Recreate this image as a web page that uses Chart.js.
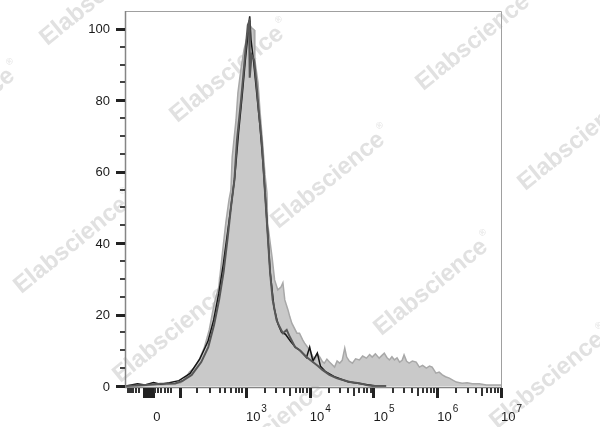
<!DOCTYPE html>
<html>
<head>
<meta charset="utf-8">
<title>Flow histogram</title>
<script src="https://cdn.jsdelivr.net/npm/chart.js@4.4.0/dist/chart.umd.min.js"></script>
<style>
    html, body { margin: 0; padding: 0; background: #fff; }
    #wrap { width: 600px; height: 427px; }
</style>
</head>
<body>
<div id="wrap"><canvas id="histChart" width="600" height="427"></canvas></div>
<script>
// x values are in display (biexponential) units: 10^n sits at n, zero sits near 1.55
const stainedX = [
    1.12, 1.34, 1.58, 1.73, 1.84, 1.97, 2.035, 2.115, 2.185, 2.265,
    2.345, 2.425, 2.505, 2.575, 2.625, 2.685, 2.735, 2.765, 2.785, 2.845,
    2.875, 2.925, 2.97, 3.02, 3.05, 3.06, 3.09, 3.13, 3.14, 3.19,
    3.22, 3.27, 3.30, 3.33, 3.34, 3.41, 3.45, 3.50, 3.55, 3.58,
    3.61, 3.66, 3.69, 3.72, 3.80, 3.84, 3.89, 3.92, 4.00, 4.04,
    4.08, 4.12, 4.16, 4.20, 4.23, 4.27, 4.31, 4.35, 4.39, 4.43,
    4.47, 4.51, 4.55, 4.58, 4.62, 4.67, 4.72, 4.78, 4.83, 4.89,
    4.94, 4.98, 5.03, 5.09, 5.13, 5.17, 5.21, 5.25, 5.29, 5.33,
    5.37, 5.41, 5.45, 5.48, 5.52, 5.56, 5.61, 5.67, 5.72, 5.77,
    5.83, 5.88, 5.92, 5.98, 6.03, 6.08, 6.13, 6.19, 6.25, 6.30,
    6.39, 6.47, 6.55, 6.66, 6.77, 7.00
];
const stainedY = [
    0, 0.1, 0.3, 0.4, 0.6, 0.8, 1.7, 3.9, 5.0, 7.3,
    10.6, 15.7, 23.2, 27.7, 36.1, 45.7, 52.1, 54.9, 64.1, 74.5,
    82.1, 89.1, 94.1, 97.8, 102.0, 101.1, 100.3, 99.7, 91.3, 84.9,
    77.3, 66.1, 59.1, 54.1, 45.7, 36.1, 29.7, 26.9, 27.7, 28.9,
    24.1, 21.3, 19.3, 17.6, 14.8, 14.8, 12.9, 12.0, 10.1, 8.5,
    7.3, 9.0, 8.1, 6.8, 6.4, 7.5, 6.7, 6.0, 5.3, 7.0,
    6.4, 7.2, 10.6, 8.1, 7.0, 6.4, 7.6, 7.3, 8.4, 7.8,
    8.8, 8.1, 9.0, 7.8, 8.5, 9.2, 8.0, 7.3, 8.2, 7.3,
    7.9, 6.7, 7.2, 8.7, 6.9, 6.4, 7.0, 6.7, 5.3, 5.8,
    5.0, 5.6, 5.3, 3.6, 3.9, 3.1, 2.6, 2.2, 1.6, 1.1,
    0.8, 0.9, 0.6, 0.6, 0.3, 0.3
];

const controlX = [
    1.12, 1.42, 1.66, 1.89, 2.00, 2.15, 2.30, 2.41, 2.50, 2.58,
    2.65, 2.71, 2.77, 2.82, 2.86, 2.92, 2.96, 2.99, 3.03, 3.05,
    3.06, 3.06, 3.09, 3.13, 3.17, 3.20, 3.25, 3.30, 3.33, 3.38,
    3.42, 3.48, 3.53, 3.58, 3.64, 3.69, 3.77, 3.84, 3.95, 4.05,
    4.13, 4.20, 4.31, 4.42, 4.52, 4.63, 4.78, 4.89, 4.98, 5.20
];
const controlY = [
    0, 0.3, 0.6, 0.7, 1.4, 3.1, 6.7, 10.9, 17.1, 24.1,
    31.9, 40.9, 50.7, 57.7, 68.9, 79.3, 87.1, 93.3, 101.1, 102.0,
    96.9, 86.3, 92.7, 91.3, 83.8, 77.3, 68.1, 54.1, 45.7, 31.7,
    24.1, 18.5, 16.5, 14.8, 15.7, 13.7, 10.9, 10.1, 8.1, 6.7,
    5.6, 4.5, 3.1, 2.2, 1.7, 1.1, 0.8, 0.3, 0, 0
];

const isotypeX = [
    1.12, 1.30, 1.42, 1.55, 1.66, 1.80, 1.95, 2.125, 2.275, 2.405,
    2.495, 2.575, 2.645, 2.705, 2.765, 2.825, 2.885, 2.945, 2.99, 3.03,
    3.06, 3.08, 3.12, 3.17, 3.22, 3.27, 3.33, 3.38, 3.44, 3.50,
    3.56, 3.62, 3.70, 3.78, 3.86, 3.95, 4.00, 4.05, 4.12, 4.17,
    4.25, 4.40, 4.60, 4.85, 5.05
];
const isotypeY = [
    0, 0.6, 0.3, 1.0, 0.5, 0.9, 1.5, 3.5, 7.5, 12.5,
    18.5, 26.0, 34.0, 42.0, 50.0, 58.5, 71.0, 82.0, 91.0, 98.0,
    103.5, 97.0, 91.0, 82.0, 73.0, 62.0, 46.0, 32.0, 22.0, 17.5,
    15.0, 14.5, 12.5, 10.8, 9.8, 8.0, 10.9, 7.0, 9.2, 5.5,
    4.0, 2.5, 1.2, 0.5, 0
];

// axis ticks and labels
const yLabelValues = [0, 20, 40, 60, 80, 100];
const yMinorValues = [5, 10, 15, 25, 30, 35, 45, 50, 55, 65, 70, 75, 85, 90, 95];
const xLabelValues = [1.547, 3, 4, 5, 6, 7];
const xLabelBase = ['0', '10', '10', '10', '10', '10'];
const xLabelExp = ['', '3', '4', '5', '6', '7'];
const xMajorTicks = [1.406, 1.422, 1.438, 1.453, 1.469, 1.484, 1.5, 1.516, 1.531, 1.547, 1.969, 3, 4, 5, 6, 7];
const xLowMinorTicks = [1.156, 1.172, 1.203, 1.234, 1.281, 1.328, 1.578, 1.625, 1.672, 1.734, 1.781, 1.828,
    2.234, 2.438, 2.594, 2.672, 2.766, 2.844, 2.891, 2.938];

const watermarkSpots = [[100, -5], [-39, 114], [230, 72], [476, 40], [331, 178], [578, 140],
    [74, 243], [434, 285], [173, 332], [270, 428], [550, 378]];

function toPoints(xs, ys) {
    return xs.map((x, i) => ({ x: x, y: ys[i] }));
}

// faint company watermark behind the histograms
const watermark = {
    id: 'watermark',
    beforeDatasetsDraw(chart) {
        const ctx = chart.ctx;
        ctx.save();
        ctx.fillStyle = '#e1e1e1';
        ctx.textBaseline = 'middle';
        watermarkSpots.forEach(([cx, cy]) => {
            ctx.save();
            ctx.translate(cx, cy);
            ctx.rotate(-39 * Math.PI / 180);
            ctx.font = 'bold 24px "Liberation Sans", Arial, sans-serif';
            const w = ctx.measureText('Elabscience').width;
            ctx.fillText('Elabscience', -w / 2 - 4, 0);
            ctx.font = '9px "Liberation Sans", Arial, sans-serif';
            ctx.fillText('®', w / 2 - 2, -10);
            ctx.restore();
        });
        ctx.restore();
    }
};

// frame, tick marks and labels drawn from the chart's own scales
const flowAxes = {
    id: 'flowAxes',
    afterDraw(chart) {
        const { ctx, chartArea: a, scales: { x, y } } = chart;
        ctx.save();

        ctx.strokeStyle = '#a0a0a0';
        ctx.lineWidth = 1;
        ctx.beginPath();
        ctx.moveTo(a.left, a.top + 0.5);
        ctx.lineTo(a.right + 0.5, a.top + 0.5);
        ctx.lineTo(a.right + 0.5, a.bottom);
        ctx.stroke();

        ctx.strokeStyle = '#858585';
        ctx.lineWidth = 1.5;
        ctx.beginPath();
        ctx.moveTo(a.left - 0.5, a.top);
        ctx.lineTo(a.left - 0.5, a.bottom + 0.5);
        ctx.lineTo(a.right + 1, a.bottom + 0.5);
        ctx.stroke();

        // y ticks
        ctx.fillStyle = '#222';
        yLabelValues.forEach(v => {
            const py = Math.round(y.getPixelForValue(v));
            ctx.fillRect(a.left - 10, py - 1, 9, 3);
        });
        ctx.fillStyle = '#444';
        yMinorValues.forEach(v => {
            const py = Math.round(y.getPixelForValue(v));
            ctx.fillRect(a.left - 6, py - 1, 5, 2);
        });

        // x ticks
        const base = a.bottom + 1;
        ctx.fillStyle = '#222';
        xMajorTicks.forEach(v => {
            const px = Math.round(x.getPixelForValue(v));
            ctx.fillRect(px - 1, base, 3, 10);
        });
        ctx.fillStyle = '#333';
        xLowMinorTicks.forEach(v => {
            const px = Math.round(x.getPixelForValue(v));
            ctx.fillRect(px - 1, base, 2, 5);
        });
        for (let n = 3; n < 7; n++) {
            for (let k = 2; k <= 9; k++) {
                const px = Math.round(x.getPixelForValue(n + Math.log10(k)));
                ctx.fillRect(px - 1, base, 2, k === 5 ? 8 : 5);
            }
        }

        // labels
        ctx.fillStyle = '#1a1a1a';
        ctx.font = '13px "Liberation Sans", Arial, sans-serif';
        ctx.textAlign = 'right';
        ctx.textBaseline = 'middle';
        yLabelValues.forEach(v => {
            ctx.fillText(String(v), 110, y.getPixelForValue(v) + 1);
        });

        ctx.textAlign = 'left';
        ctx.textBaseline = 'alphabetic';
        xLabelValues.forEach((v, i) => {
            const px = x.getPixelForValue(v);
            ctx.font = '13px "Liberation Sans", Arial, sans-serif';
            ctx.fillText(xLabelBase[i], px, 421);
            if (xLabelExp[i]) {
                const w = ctx.measureText(xLabelBase[i]).width;
                ctx.font = '10px "Liberation Sans", Arial, sans-serif';
                ctx.fillText(xLabelExp[i], px + w + 1, 412);
            }
        });
        ctx.restore();
    }
};

document.addEventListener('DOMContentLoaded', function () {
    const ctx = document.getElementById('histChart').getContext('2d');
    new Chart(ctx, {
        type: 'line',
        data: {
            datasets: [{
                label: 'Control',
                data: toPoints(controlX, controlY),
                borderColor: '#575757',
                borderWidth: 2,
                fill: false,
                order: 0
            }, {
                label: 'Isotype',
                data: toPoints(isotypeX, isotypeY),
                borderColor: '#151515',
                borderWidth: 1.5,
                fill: false,
                order: 1
            }, {
                label: 'Stained',
                data: toPoints(stainedX, stainedY),
                borderColor: '#a8a8a8',
                backgroundColor: '#c9c9c9',
                borderWidth: 1.5,
                fill: 'origin',
                order: 2
            }]
        },
        options: {
            responsive: false,
            animation: false,
            devicePixelRatio: 1,
            layout: { padding: { left: 126, right: 99, top: 11, bottom: 40 } },
            elements: {
                point: { radius: 0 },
                line: { tension: 0 }
            },
            plugins: {
                legend: { display: false },
                tooltip: { enabled: false }
            },
            scales: {
                x: { type: 'linear', display: false, min: 1.12, max: 7 },
                y: { display: false, min: -0.28, max: 105 }
            }
        },
        plugins: [watermark, flowAxes]
    });
});
</script>
</body>
</html>
